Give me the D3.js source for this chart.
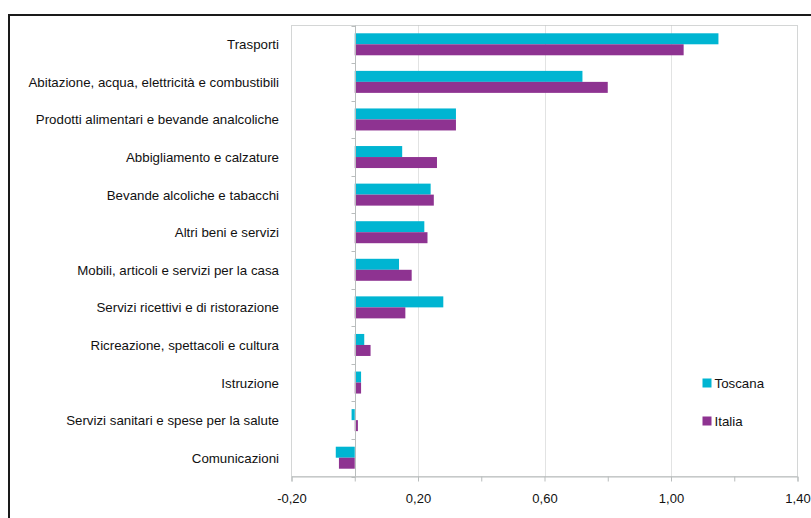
<!DOCTYPE html>
<html>
<head>
<meta charset="utf-8">
<script src="https://cdn.jsdelivr.net/npm/d3@7"></script>
<style>
  html, body { margin: 0; padding: 0; background: #fff; }
  svg { display: block; font-family: "Liberation Sans", Arial, sans-serif; }
</style>
</head>
<body>
<svg id="chart" width="811" height="518"></svg>
<script>
// Contributi alla variazione dei prezzi per divisione di spesa
const categories = [
  "Trasporti",
  "Abitazione, acqua, elettricità e combustibili",
  "Prodotti alimentari e bevande analcoliche",
  "Abbigliamento e calzature",
  "Bevande alcoliche e tabacchi",
  "Altri beni e servizi",
  "Mobili, articoli e servizi per la casa",
  "Servizi ricettivi e di ristorazione",
  "Ricreazione, spettacoli e cultura",
  "Istruzione",
  "Servizi sanitari e spese per la salute",
  "Comunicazioni"
];
const toscana = [1.15, 0.72, 0.32, 0.15, 0.24, 0.22, 0.14, 0.28, 0.03, 0.02, -0.01, -0.06];
const italia  = [1.04, 0.80, 0.32, 0.26, 0.25, 0.23, 0.18, 0.16, 0.05, 0.02, 0.01, -0.05];
const seriesNames = ["Toscana", "Italia"];
const seriesColors = ["#00B5D2", "#8E3391"];
const xTicks = [-0.2, 0.2, 0.6, 1.0, 1.4];
const xMinorTicks = [-0.2, 0.0, 0.2, 0.4, 0.6, 0.8, 1.0, 1.2, 1.4];

const svg = d3.select("#chart");
const plot = { left: 291.5, right: 797.5, top: 25.5, bottom: 476.5 };

// outer frame
svg.append("rect")
  .attr("x", 9).attr("y", 15)
  .attr("width", 820).attr("height", 520)
  .attr("fill", "none").attr("stroke", "#1a1a1a").attr("stroke-width", 2);

const x = d3.scaleLinear().domain([-0.2, 1.4]).range([plot.left, plot.right]);
const y = d3.scaleBand().domain(categories).range([plot.top, plot.bottom]);
const inner = d3.scaleBand().domain(seriesNames).range([0, 22]);
const barOffset = (y.bandwidth() - 22) / 2;

// plot area border
svg.append("rect")
  .attr("x", plot.left).attr("y", plot.top)
  .attr("width", plot.right - plot.left).attr("height", plot.bottom - plot.top)
  .attr("fill", "none").attr("stroke", "#d4d6d6").attr("stroke-width", 1);

// vertical gridlines
svg.append("g").selectAll("line")
  .data(xTicks.filter(d => d > -0.2 && d < 1.4))
  .join("line")
  .attr("x1", d => Math.round(x(d)) + 0.5).attr("x2", d => Math.round(x(d)) + 0.5)
  .attr("y1", plot.top).attr("y2", plot.bottom)
  .attr("stroke", "#c4c6c6").attr("stroke-dasharray", "1,1");

// bars
const rows = categories.map((c, i) => ({ c, vals: [toscana[i], italia[i]] }));
const groups = svg.append("g").selectAll("g")
  .data(rows).join("g")
  .attr("transform", d => `translate(0,${y(d.c) + barOffset})`);
groups.selectAll("rect")
  .data(d => d.vals.map((v, j) => ({ v, s: seriesNames[j], color: seriesColors[j] })))
  .join("rect")
  .attr("x", d => x(Math.min(0, d.v)))
  .attr("width", d => Math.abs(x(d.v) - x(0)))
  .attr("y", d => inner(d.s))
  .attr("height", inner.bandwidth())
  .attr("fill", d => d.color);

// zero axis with category ticks
const zx = Math.round(x(0)) + 0.5;
svg.append("line")
  .attr("x1", zx).attr("x2", zx).attr("y1", plot.top).attr("y2", plot.bottom)
  .attr("stroke", "#b9bdbd");
svg.append("g").selectAll("line")
  .data(d3.range(categories.length + 1))
  .join("line")
  .attr("x1", zx - 4).attr("x2", zx)
  .attr("y1", i => Math.round(plot.top + i * y.step()) + 0.5)
  .attr("y2", i => Math.round(plot.top + i * y.step()) + 0.5)
  .attr("stroke", "#b9bdbd");

// x axis: labels every 0.4, ticks every 0.2, Italian decimal comma
const fmt = d => d3.format(".2f")(d).replace(".", ",").replace("\u2212", "-");
const xAxis = d3.axisBottom(x)
  .tickValues(xMinorTicks)
  .tickSize(5)
  .tickFormat(d => xTicks.some(t => Math.abs(t - d) < 1e-9) ? fmt(d) : "");
const gx = svg.append("g")
  .attr("transform", `translate(0,${plot.bottom})`)
  .call(xAxis);
gx.select(".domain").attr("stroke", "#b9bdbd");
gx.selectAll(".tick line").attr("stroke", "#b9bdbd");
gx.selectAll(".tick text")
  .attr("y", 17).attr("font-size", 13).attr("fill", "#111")
  .attr("font-family", "Liberation Sans, Arial, sans-serif");

// category labels
svg.append("g").selectAll("text")
  .data(categories).join("text")
  .attr("x", 279)
  .attr("y", d => y(d) + y.bandwidth() / 2 + 5)
  .attr("text-anchor", "end")
  .attr("font-size", 13.3).attr("fill", "#111")
  .text(d => d);

// legend
const legend = svg.append("g").selectAll("g")
  .data(seriesNames).join("g")
  .attr("transform", (d, i) => `translate(702.5,${378.5 + i * 38})`);
legend.append("rect")
  .attr("width", 9).attr("height", 9)
  .attr("fill", (d, i) => seriesColors[i]);
legend.append("text")
  .attr("x", 12).attr("y", 9)
  .attr("font-size", 13.3).attr("fill", "#111")
  .text(d => d);
</script>
</body>
</html>
